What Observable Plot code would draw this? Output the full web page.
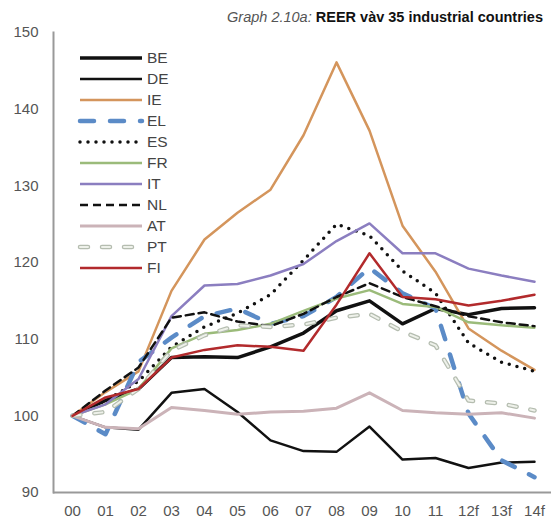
<!DOCTYPE html>
<html><head><meta charset="utf-8">
<script src="https://cdn.jsdelivr.net/npm/d3@7"></script>
<script src="https://cdn.jsdelivr.net/npm/@observablehq/plot@0.6"></script>
<style>
body{margin:0;background:#fff;font-family:"Liberation Sans",Arial,sans-serif;}
#wrap{position:relative;width:551px;height:525px;overflow:hidden;}
#title{position:absolute;right:8px;top:9px;font-size:14.5px;white-space:nowrap;line-height:17px;}
#title .g{font-style:italic;color:#555;}
#title .t{font-weight:bold;color:#111;}
#legend{position:absolute;left:0;top:0;}
</style></head><body>
<div id="wrap"><div id="chart"></div>
<div id="title"><span class="g">Graph 2.10a:</span> <span class="t">REER vàv 35 industrial countries</span></div>
</div>
<script>
const years = ["00","01","02","03","04","05","06","07","08","09","10","11","12f","13f","14f"];
const yTicks = [90,100,110,120,130,140,150];
const BE = [100,102,103.5,107.6,107.7,107.6,109,110.8,113.7,115,112,114,113.2,114,114.1];
const DE = [100,98.5,98.2,103,103.5,100.5,96.8,95.4,95.3,98.6,94.3,94.5,93.2,93.9,94];
const IE = [100,103.1,105.8,116.3,123,126.5,129.5,136.6,146.1,137.2,124.8,118.8,111.4,108.5,106];
const EL = [100,97.6,107,110.2,113,114,112,113,115.5,119.3,116,114,100.3,94.2,92];
const ES = [100,102,104.5,109,111.6,113.4,115.8,120.3,125,123.5,118.9,116,109.5,107,105.8];
const FR = [100,101.5,103.5,108.8,110.7,111.2,112,113.7,115.3,116.4,114.6,114.2,112.2,111.8,111.5];
const IT = [100,101.5,104.8,113,117,117.2,118.3,119.8,122.8,125.1,121.2,121.2,119.2,118.3,117.5];
const NL = [100,103.3,106.3,112.8,113.5,112.3,111.7,113.3,115.5,117.3,115.5,114.3,113,112.2,111.7];
const AT = [100,98.5,98.3,101.1,100.7,100.2,100.5,100.6,101,103,100.7,100.4,100.2,100.4,99.7];
const PT = [100,100.5,103.5,108.5,110.5,111.8,111.6,111.9,112.8,113.3,111,109.2,102,101.6,100.7];
const FI = [100,102.4,103.5,107.6,108.6,109.2,109,108.5,114.5,121.2,115.5,115.2,114.4,115,115.8];

const seriesNames = ["BE","DE","IE","EL","ES","FR","IT","NL","AT","PT","FI"];
const seriesValues = {BE,DE,IE,EL,ES,FR,IT,NL,AT,PT,FI};
const styles = {
  BE:[{stroke:"#111",strokeWidth:3.5}],
  DE:[{stroke:"#111",strokeWidth:2.5}],
  IE:[{stroke:"#d4955c",strokeWidth:2.5}],
  EL:[{stroke:"#5b8bc7",strokeWidth:4.5,strokeDasharray:"14,16",strokeLinecap:"round"}],
  ES:[{stroke:"#111",strokeWidth:3.5,strokeDasharray:"0,8",strokeLinecap:"round"}],
  FR:[{stroke:"#9bbb7a",strokeWidth:2.5}],
  IT:[{stroke:"#8b7ec0",strokeWidth:2.5}],
  NL:[{stroke:"#111",strokeWidth:2.5,strokeDasharray:"8,5"}],
  AT:[{stroke:"#cbb3b8",strokeWidth:3}],
  PT:[{stroke:"#b5bdb0",strokeWidth:4.5,strokeDasharray:"8,14",strokeLinecap:"round"},
      {stroke:"#eef1ea",strokeWidth:2,strokeDasharray:"8,14",strokeLinecap:"round"}],
  FI:[{stroke:"#b22a2c",strokeWidth:2.5}]
};

const rows = seriesNames.map(name => years.map((yr,i) => ({year:yr, value:seriesValues[name][i], series:name})));

const lineMarks = seriesNames.flatMap((name,k) =>
  styles[name].map(st => Plot.line(rows[k], {x:"year", y:"value", strokeLinejoin:"round", ...st})));

const chart = Plot.plot({
  width:551, height:525,
  marginTop:32, marginBottom:33, marginLeft:53, marginRight:0,
  style:{fontFamily:"'Liberation Sans', Arial, sans-serif", fontSize:"15px", color:"#555", background:"white"},
  x:{type:"point", domain:years, padding:0, insetLeft:16, insetRight:15},
  y:{domain:[90,150]},
  marks:[
    Plot.axisY({ticks:yTicks, tickSize:0, tickPadding:15, label:null}),
    Plot.axisX({tickSize:0, tickPadding:13, label:null}),
    ...lineMarks,
    Plot.ruleY([90], {stroke:"#999", strokeWidth:2}),
    Plot.frame({anchor:"left", stroke:"#999", strokeWidth:2})
  ]
});
document.getElementById("chart").appendChild(chart);

// legend overlay
const leg = d3.select("#wrap").append("svg").attr("id","legend").attr("width",200).attr("height",290);
seriesNames.forEach((name,i) => {
  const y = 58 + i*21;
  styles[name].forEach(st => {
    leg.append("line").attr("x1",80).attr("x2",142).attr("y1",y).attr("y2",y)
      .attr("stroke",st.stroke).attr("stroke-width",st.strokeWidth)
      .attr("stroke-dasharray",st.strokeDasharray||null)
      .attr("stroke-linecap",st.strokeLinecap||"butt");
  });
  leg.append("text").attr("x",147).attr("y",y).attr("dy","0.35em")
    .attr("font-family","'Liberation Sans', Arial, sans-serif").attr("font-size",15.5)
    .attr("fill","#444").text(name);
});
</script>
</body></html>
